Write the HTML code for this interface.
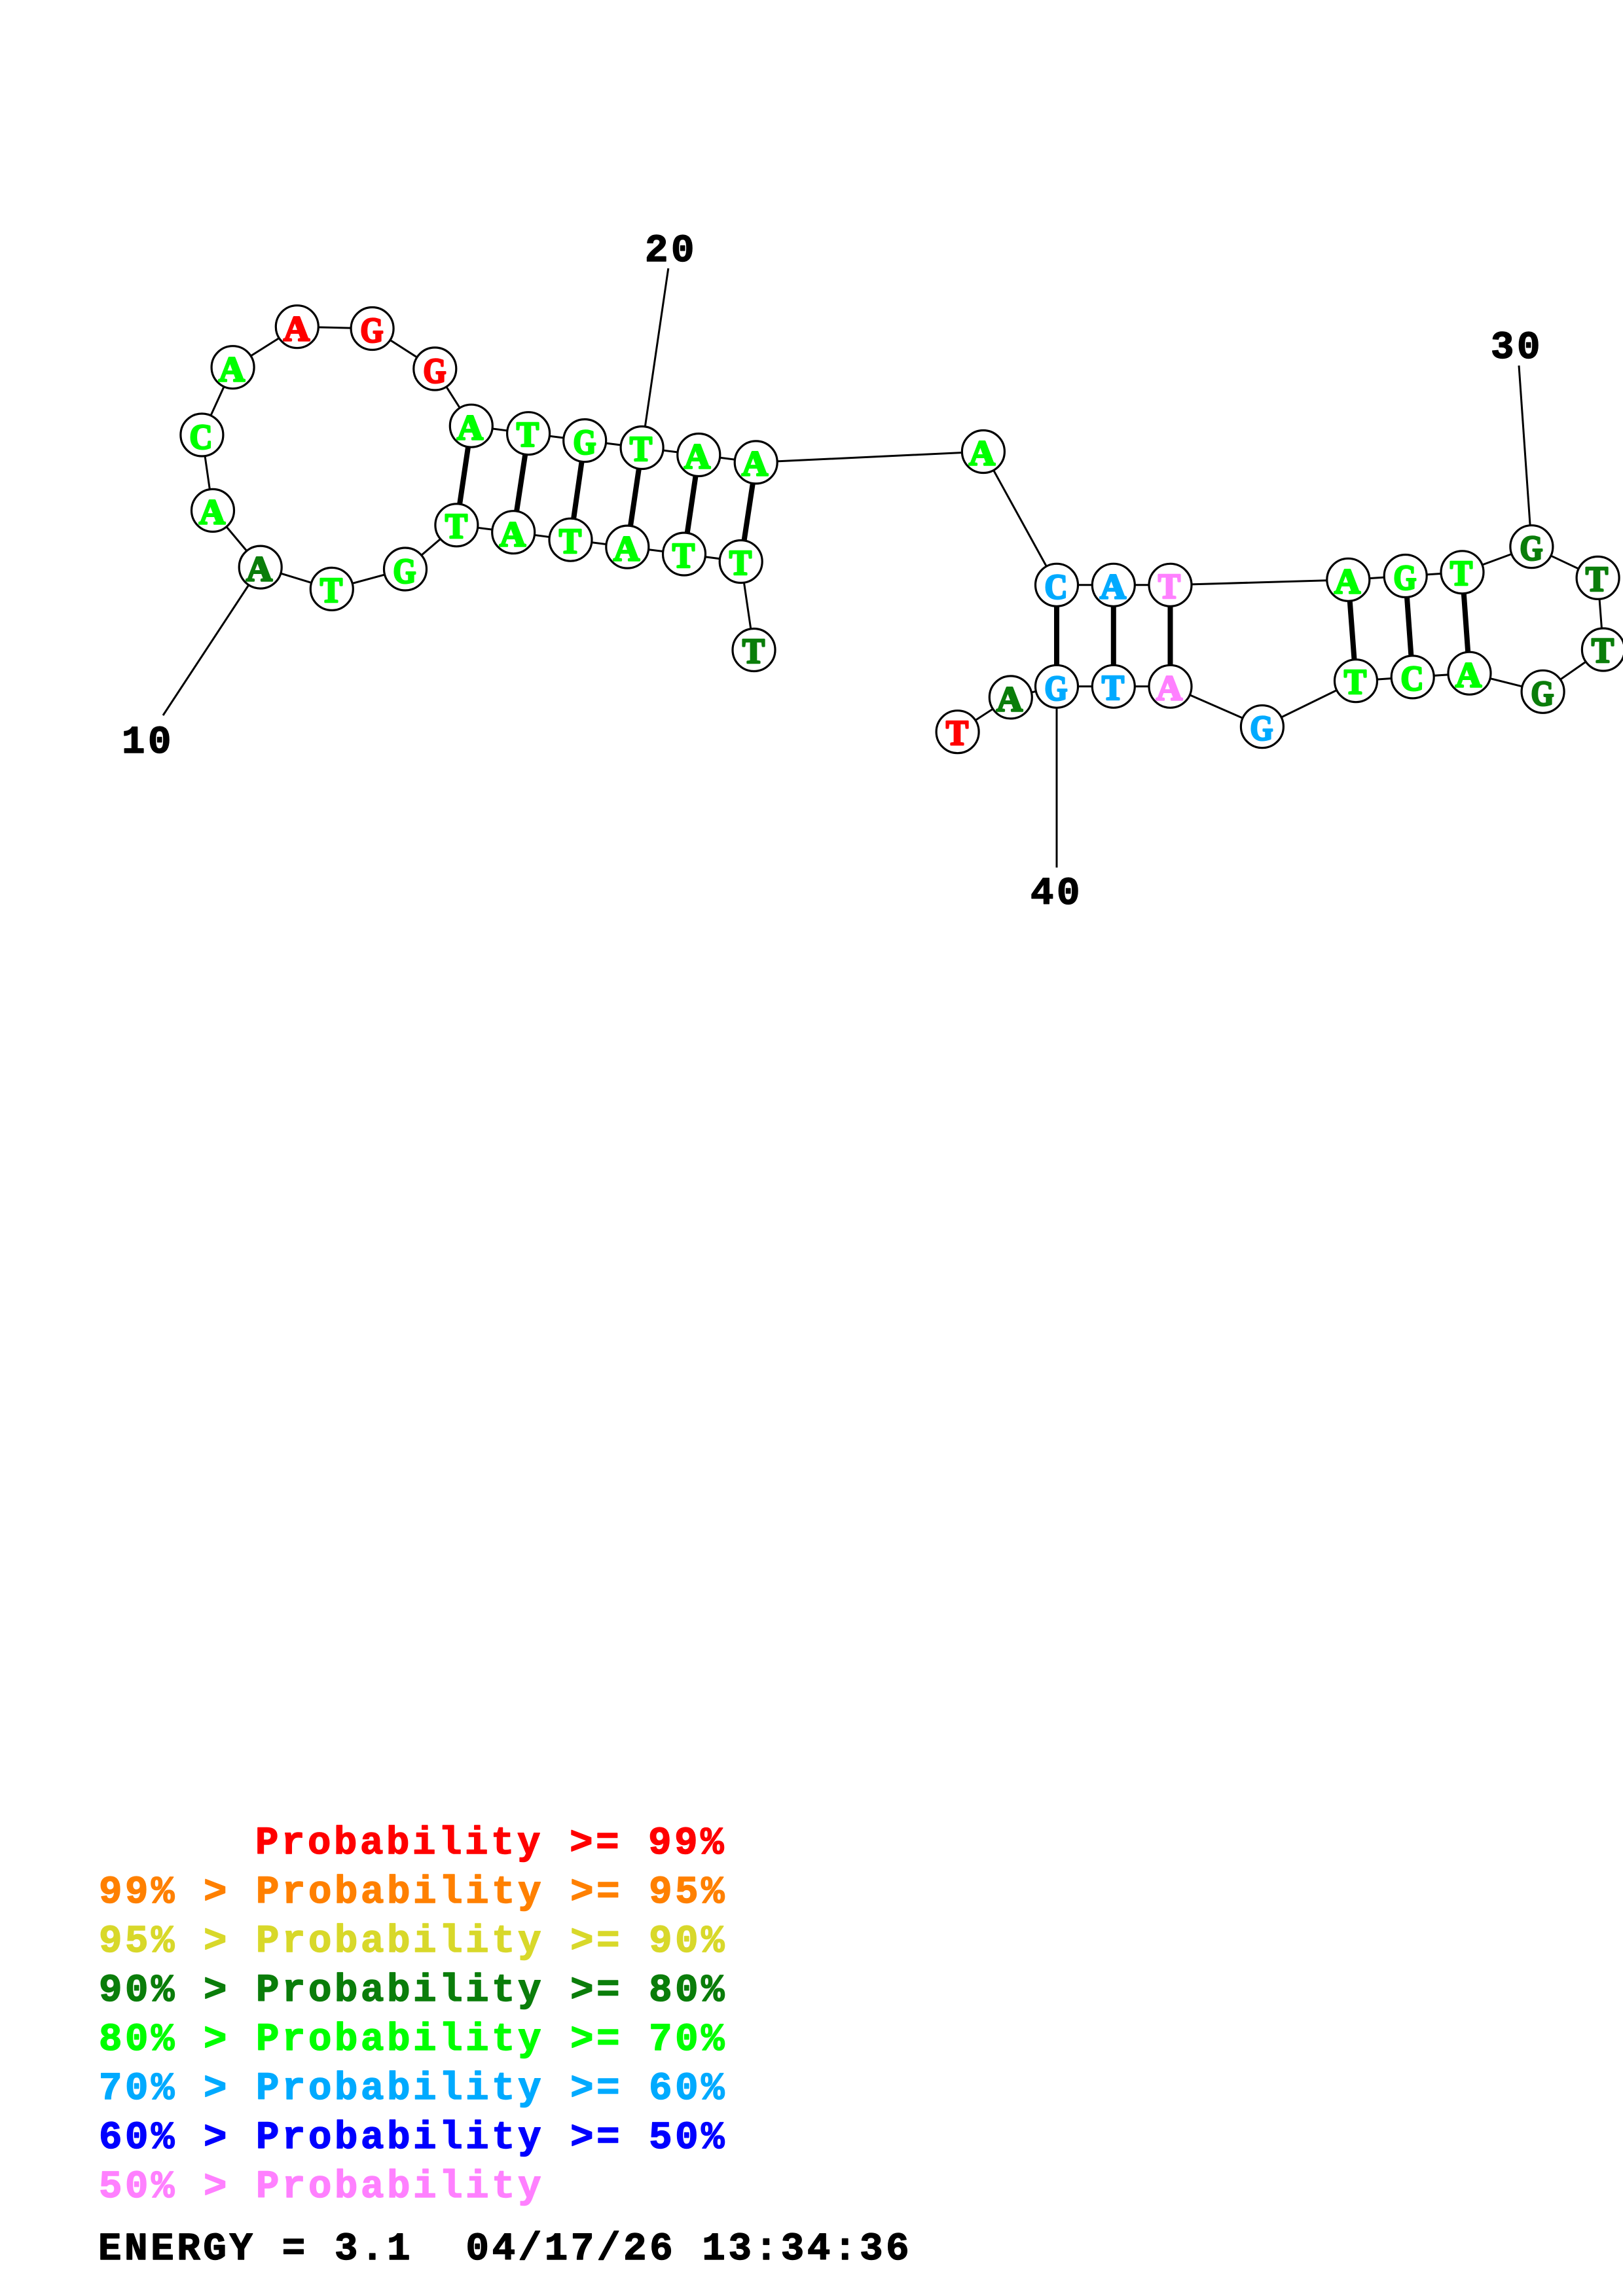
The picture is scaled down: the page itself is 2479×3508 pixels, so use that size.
<!DOCTYPE html>
<html><head><meta charset="utf-8"><style>
html,body{margin:0;padding:0;background:#fff;width:2479px;height:3508px;overflow:hidden}
svg{display:block}
.n{font-family:"Liberation Serif",serif;font-weight:bold;font-size:54px;text-anchor:middle;stroke-width:3px;stroke-linejoin:round}
.m{font-family:"Liberation Mono",monospace;font-weight:bold;font-size:59px;letter-spacing:4.6px;white-space:pre;stroke-width:1.5px;stroke-linejoin:round}
.r{fill:#ff0000;stroke:#ff0000}.o{fill:#ff8000;stroke:#ff8000}.y{fill:#d8d82a;stroke:#d8d82a}.d{fill:#0a7d0a;stroke:#0a7d0a}.g{fill:#00ff00;stroke:#00ff00}.b{fill:#00aaff;stroke:#00aaff}.u{fill:#0000ff;stroke:#0000ff}.p{fill:#ff80ff;stroke:#ff80ff}.k{fill:#000;stroke:#000}
</style></head><body>
<svg xmlns="http://www.w3.org/2000/svg" width="2479" height="3508" viewBox="0 0 2479 3508">
<rect width="2479" height="3508" fill="#fff"/>
<g stroke="#000" stroke-width="3" fill="none">
<polyline points="1151.5,993 1131.7,858 1045,846.5 958.3,835.6 871.5,824.7 784.2,813.2 697.4,802.3 619,869.5 506.8,899.9 397.7,866.6 325,779.9 308.4,664.5 355.6,561.2 453.8,499.2 568.6,502 664.3,563.5 719.8,650.7 807.1,662.2 893.2,673.1 980.6,684 1067.3,695 1154.7,706.4 1501.9,690 1614,893.8 1700.8,893.8 1787.5,893.8 2059.3,885.8 2146.7,880 2233.5,874.3 2339.4,835.2 2440.6,882.9 2448.9,992.5 2356.6,1056.8 2244.5,1028.7 2157.7,1034.4 2071,1040.2 1927.9,1110.2 1787.5,1048.8 1700.8,1048.8 1614,1048.8 1543.8,1065.4 1462.6,1118.2"/>
<line x1="397.7" y1="866.6" x2="249" y2="1093"/>
<line x1="980.6" y1="684" x2="1020.8" y2="410"/>
<line x1="2339.4" y1="835.2" x2="2320" y2="558.5"/>
<line x1="1614" y1="1048.8" x2="1614" y2="1325.5"/>
</g>
<g stroke="#000" stroke-width="8" fill="none">
<line x1="719.8" y1="650.7" x2="697.4" y2="802.3"/>
<line x1="807.1" y1="662.2" x2="784.2" y2="813.2"/>
<line x1="893.2" y1="673.1" x2="871.5" y2="824.7"/>
<line x1="980.6" y1="684" x2="958.3" y2="835.6"/>
<line x1="1067.3" y1="695" x2="1045" y2="846.5"/>
<line x1="1154.7" y1="706.4" x2="1131.7" y2="858"/>
<line x1="1614" y1="893.8" x2="1614" y2="1048.8"/>
<line x1="1700.8" y1="893.8" x2="1700.8" y2="1048.8"/>
<line x1="1787.5" y1="893.8" x2="1787.5" y2="1048.8"/>
<line x1="2059.3" y1="885.8" x2="2071" y2="1040.2"/>
<line x1="2146.7" y1="880" x2="2157.7" y2="1034.4"/>
<line x1="2233.5" y1="874.3" x2="2244.5" y2="1028.7"/>
</g>
<g fill="#fff" stroke="#000" stroke-width="3.2">
<circle cx="1151.5" cy="993" r="32.5"/><circle cx="1131.7" cy="858" r="32.5"/><circle cx="1045" cy="846.5" r="32.5"/><circle cx="958.3" cy="835.6" r="32.5"/><circle cx="871.5" cy="824.7" r="32.5"/><circle cx="784.2" cy="813.2" r="32.5"/><circle cx="697.4" cy="802.3" r="32.5"/><circle cx="619" cy="869.5" r="32.5"/><circle cx="506.8" cy="899.9" r="32.5"/><circle cx="397.7" cy="866.6" r="32.5"/><circle cx="325" cy="779.9" r="32.5"/><circle cx="308.4" cy="664.5" r="32.5"/><circle cx="355.6" cy="561.2" r="32.5"/><circle cx="453.8" cy="499.2" r="32.5"/><circle cx="568.6" cy="502" r="32.5"/><circle cx="664.3" cy="563.5" r="32.5"/><circle cx="719.8" cy="650.7" r="32.5"/><circle cx="807.1" cy="662.2" r="32.5"/><circle cx="893.2" cy="673.1" r="32.5"/><circle cx="980.6" cy="684" r="32.5"/><circle cx="1067.3" cy="695" r="32.5"/><circle cx="1154.7" cy="706.4" r="32.5"/><circle cx="1501.9" cy="690" r="32.5"/><circle cx="1614" cy="893.8" r="32.5"/><circle cx="1700.8" cy="893.8" r="32.5"/><circle cx="1787.5" cy="893.8" r="32.5"/><circle cx="2059.3" cy="885.8" r="32.5"/><circle cx="2146.7" cy="880" r="32.5"/><circle cx="2233.5" cy="874.3" r="32.5"/><circle cx="2339.4" cy="835.2" r="32.5"/><circle cx="2440.6" cy="882.9" r="32.5"/><circle cx="2448.9" cy="992.5" r="32.5"/><circle cx="2356.6" cy="1056.8" r="32.5"/><circle cx="2244.5" cy="1028.7" r="32.5"/><circle cx="2157.7" cy="1034.4" r="32.5"/><circle cx="2071" cy="1040.2" r="32.5"/><circle cx="1927.9" cy="1110.2" r="32.5"/><circle cx="1787.5" cy="1048.8" r="32.5"/><circle cx="1700.8" cy="1048.8" r="32.5"/><circle cx="1614" cy="1048.8" r="32.5"/><circle cx="1543.8" cy="1065.4" r="32.5"/><circle cx="1462.6" cy="1118.2" r="32.5"/>
</g>
<g>
<text class="n d" x="1151" y="1012.5" textLength="34" lengthAdjust="spacingAndGlyphs">T</text>
<text class="n g" x="1131" y="877.5" textLength="34" lengthAdjust="spacingAndGlyphs">T</text>
<text class="n g" x="1044" y="866.5" textLength="34" lengthAdjust="spacingAndGlyphs">T</text>
<text class="n g" x="957" y="856.5" textLength="40" lengthAdjust="spacingAndGlyphs">A</text>
<text class="n g" x="871" y="844.5" textLength="34" lengthAdjust="spacingAndGlyphs">T</text>
<text class="n g" x="783" y="834.5" textLength="40" lengthAdjust="spacingAndGlyphs">A</text>
<text class="n g" x="697" y="821.5" textLength="34" lengthAdjust="spacingAndGlyphs">T</text>
<text class="n g" x="618" y="890.5" textLength="35" lengthAdjust="spacingAndGlyphs">G</text>
<text class="n g" x="506" y="919.5" textLength="34" lengthAdjust="spacingAndGlyphs">T</text>
<text class="n d" x="396" y="887.5" textLength="40" lengthAdjust="spacingAndGlyphs">A</text>
<text class="n g" x="324" y="800.5" textLength="40" lengthAdjust="spacingAndGlyphs">A</text>
<text class="n g" x="307" y="685.5" textLength="35" lengthAdjust="spacingAndGlyphs">C</text>
<text class="n g" x="354" y="582.5" textLength="40" lengthAdjust="spacingAndGlyphs">A</text>
<text class="n r" x="453" y="520.5" textLength="40" lengthAdjust="spacingAndGlyphs">A</text>
<text class="n r" x="568" y="522.5" textLength="35" lengthAdjust="spacingAndGlyphs">G</text>
<text class="n r" x="664" y="584.5" textLength="35" lengthAdjust="spacingAndGlyphs">G</text>
<text class="n g" x="718" y="671.5" textLength="40" lengthAdjust="spacingAndGlyphs">A</text>
<text class="n g" x="806" y="681.5" textLength="34" lengthAdjust="spacingAndGlyphs">T</text>
<text class="n g" x="893" y="693.5" textLength="35" lengthAdjust="spacingAndGlyphs">G</text>
<text class="n g" x="979" y="703.5" textLength="34" lengthAdjust="spacingAndGlyphs">T</text>
<text class="n g" x="1065" y="715.5" textLength="40" lengthAdjust="spacingAndGlyphs">A</text>
<text class="n g" x="1153" y="726.5" textLength="40" lengthAdjust="spacingAndGlyphs">A</text>
<text class="n g" x="1500" y="710.5" textLength="40" lengthAdjust="spacingAndGlyphs">A</text>
<text class="n b" x="1613" y="914.5" textLength="35" lengthAdjust="spacingAndGlyphs">C</text>
<text class="n b" x="1700" y="914.5" textLength="40" lengthAdjust="spacingAndGlyphs">A</text>
<text class="n p" x="1786" y="913.5" textLength="34" lengthAdjust="spacingAndGlyphs">T</text>
<text class="n g" x="2058" y="906.5" textLength="40" lengthAdjust="spacingAndGlyphs">A</text>
<text class="n g" x="2146" y="900.5" textLength="35" lengthAdjust="spacingAndGlyphs">G</text>
<text class="n g" x="2232" y="893.5" textLength="34" lengthAdjust="spacingAndGlyphs">T</text>
<text class="n d" x="2339" y="855.5" textLength="35" lengthAdjust="spacingAndGlyphs">G</text>
<text class="n d" x="2439" y="902.5" textLength="34" lengthAdjust="spacingAndGlyphs">T</text>
<text class="n d" x="2448" y="1011.5" textLength="34" lengthAdjust="spacingAndGlyphs">T</text>
<text class="n d" x="2356" y="1077.5" textLength="35" lengthAdjust="spacingAndGlyphs">G</text>
<text class="n g" x="2243" y="1049.5" textLength="40" lengthAdjust="spacingAndGlyphs">A</text>
<text class="n g" x="2157" y="1054.5" textLength="35" lengthAdjust="spacingAndGlyphs">C</text>
<text class="n g" x="2070" y="1059.5" textLength="34" lengthAdjust="spacingAndGlyphs">T</text>
<text class="n b" x="1927" y="1130.5" textLength="35" lengthAdjust="spacingAndGlyphs">G</text>
<text class="n p" x="1786" y="1069.5" textLength="40" lengthAdjust="spacingAndGlyphs">A</text>
<text class="n b" x="1700" y="1068.5" textLength="34" lengthAdjust="spacingAndGlyphs">T</text>
<text class="n b" x="1613" y="1069.5" textLength="35" lengthAdjust="spacingAndGlyphs">G</text>
<text class="n d" x="1542" y="1086.5" textLength="40" lengthAdjust="spacingAndGlyphs">A</text>
<text class="n r" x="1462" y="1137.5" textLength="34" lengthAdjust="spacingAndGlyphs">T</text>
</g>
<text class="m k" x="186" y="1150">10</text>
<text class="m k" x="985" y="399">20</text>
<text class="m k" x="2277" y="547">30</text>
<text class="m k" x="1574" y="1381">40</text>
<text class="m r" x="390" y="2832">Probability &gt;= 99%</text>
<text class="m o" x="151" y="2907">99% &gt; Probability &gt;= 95%</text>
<text class="m y" x="151" y="2982">95% &gt; Probability &gt;= 90%</text>
<text class="m d" x="151" y="3057">90% &gt; Probability &gt;= 80%</text>
<text class="m g" x="151" y="3132">80% &gt; Probability &gt;= 70%</text>
<text class="m b" x="151" y="3207">70% &gt; Probability &gt;= 60%</text>
<text class="m u" x="151" y="3282">60% &gt; Probability &gt;= 50%</text>
<text class="m p" x="151" y="3357">50% &gt; Probability</text>
<text class="m k" x="150" y="3452" style="letter-spacing:4.7px">ENERGY = 3.1  04/17/26 13:34:36</text>
</svg>
</body></html>
